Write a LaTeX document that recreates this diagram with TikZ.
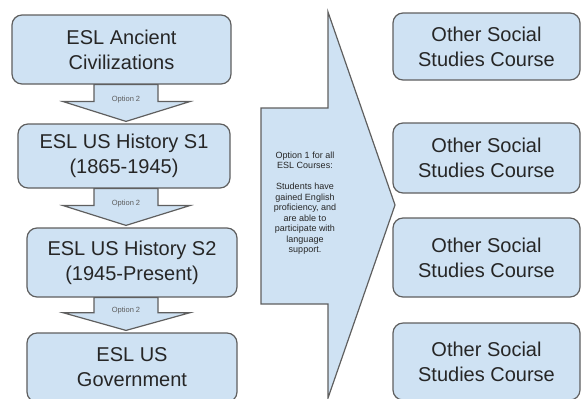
\documentclass[tikz,border=0pt]{standalone}
\usepackage{fontspec}
\setmainfont{Liberation Sans}
\usetikzlibrary{calc}
\definecolor{boxfill}{HTML}{CFE2F3}
\definecolor{boxline}{HTML}{5F5F5F}
\definecolor{boxtext}{HTML}{262626}

\begin{document}
\begin{tikzpicture}[x=1bp, y=-1bp,
  course/.style={draw=boxline, fill=boxfill, line width=1.2bp, rounded corners=10bp, align=center, text=boxtext, inner sep=0pt, font=\fontsize{20bp}{25bp}\selectfont},
  blockarr/.style={draw=boxline, fill=boxfill, line width=1.2bp, line join=miter},
  optlbl/.style={text=boxtext!75, inner sep=0pt, font=\fontsize{7.5bp}{9bp}\selectfont}]
\clip (0, 0) rectangle (582, 398);

\node [course, minimum width=219bp, minimum height=69bp] (civ) at (121.5, 49.5) {ESL Ancient\\Civilizations};
\node [course, minimum width=212bp, minimum height=64bp] (hisA) at (124, 156) {ESL US History S1\\(1865-1945)};
\node [course, minimum width=210bp, minimum height=69bp] (hisB) at (132, 262.5) {ESL US History S2\\(1945-Present)};
\node [course, minimum width=210bp, minimum height=69bp] (gov) at (132, 367.5) {ESL US\\Government};

\foreach \a/\b in {civ/hisA, hisA/hisB, hisB/gov}
  \draw [blockarr] let \p1=(\a.south), \p2=($(\b.north)+(0,-2)$), \p3=(94,0), \p4=(158,0), \p5=(63,0), \p6=(190,0), \p7=(126,0),
    \p8=($(\p1)!0.46!(\p2)$), \p9=($(\p1)!0.4!(\p2)$) in
    (\x3,\y1) -- (\x4,\y1) -- (\x4,\y8) -- (\x6,\y8) -- (\x7,\y2) -- (\x5,\y8) -- (\x3,\y8) -- cycle
    node [optlbl] at (\x7,\y9) {Option 2};

% option 1 arrow
\draw [blockarr] (261, 108) -- (328, 108) -- (328, 12) -- (395, 205) -- (328, 398) -- (328, 304) -- (261, 304) -- cycle;
\node [align=center, text=boxtext, font=\fontsize{9bp}{10.5bp}\selectfont] (opt1) at (305, 203)
  {Option 1 for all\\ESL Courses:\\[10.5bp]Students have\\gained English\\proficiency, and\\are able to\\participate with\\language\\support.};

\node [course, minimum width=187bp, minimum height=67bp] (oth1) at (486.5, 46.5) {Other Social\\Studies Course};
\node [course, minimum width=187bp, minimum height=70bp] (oth2) at (486.5, 158) {Other Social\\Studies Course};
\node [course, minimum width=187bp, minimum height=79bp] (oth3) at (486.5, 257.5) {Other Social\\Studies Course};
\node [course, minimum width=187bp, minimum height=77bp] (oth4) at (486.5, 361.5) {Other Social\\Studies Course};
\end{tikzpicture}
\end{document}
